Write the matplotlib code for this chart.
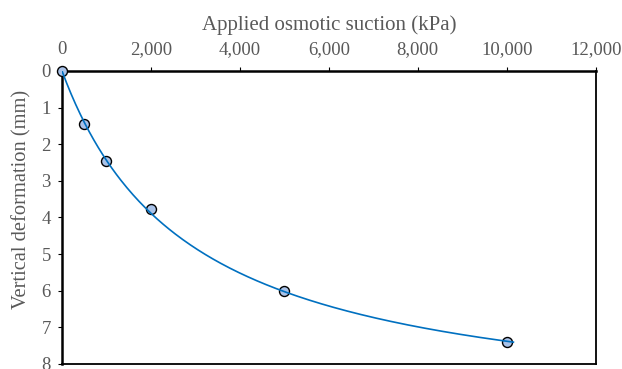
import matplotlib
matplotlib.use("Agg")
import matplotlib.pyplot as plt
import numpy as np
from matplotlib.ticker import FuncFormatter

# measured points
suction = [0, 500, 1000, 2000, 5000, 10000]
deformation = [0.0, 1.45, 2.45, 3.78, 6.0, 7.4]

x_ticks = [0, 2000, 4000, 6000, 8000, 10000, 12000]
y_ticks = [0, 1, 2, 3, 4, 5, 6, 7, 8]

plt.rcParams["font.family"] = ["Liberation Serif", "DejaVu Serif"]
grey = "#595959"

# hyperbolic trendline d = a*s/(b+s), fitted on linearised data s/d = b/a + s/a
s = np.array(suction[1:], dtype=float)
d = np.array(deformation[1:], dtype=float)
slope, intercept = np.polyfit(s, s / d, 1)
a = 1.0 / slope
b = intercept * a
s_fit = np.linspace(0, suction[-1] * 1.015, 300)
d_fit = a * s_fit / (b + s_fit)

fig = plt.figure(figsize=(6.22, 3.69), dpi=100)
ax = fig.add_axes([0.0997, 0.0136, 0.858, 0.794])

ax.plot(suction, deformation, "o", markersize=7.2, markerfacecolor="#A9C2E8",
        markeredgecolor="black", markeredgewidth=1.0, zorder=3, clip_on=False)
ax.plot(s_fit, d_fit, color="#0070C0", linewidth=1.2, zorder=4)

ax.set_xlim(0, 12000)
ax.set_ylim(8, 0)
ax.set_xticks(x_ticks)
ax.set_yticks(y_ticks)
ax.xaxis.set_major_formatter(FuncFormatter(lambda v, p: f"{int(v):,}"))
ax.xaxis.tick_top()
ax.xaxis.set_label_position("top")

ax.tick_params(axis="both", direction="out", length=3, width=0.8,
               colors="black", labelcolor=grey, labelsize=13.5)
ax.tick_params(axis="x", pad=6)
ax.tick_params(axis="y", pad=5)
ax.set_xlabel("Applied osmotic suction (kPa)", fontsize=15, color=grey,
              labelpad=8)
ax.set_ylabel("Vertical deformation (mm)", fontsize=14.8, color=grey)
ax.yaxis.set_label_coords(-0.057, 0.563)

for side in ["top", "left"]:
    ax.spines[side].set_linewidth(1.8)
for side in ["bottom", "right"]:
    ax.spines[side].set_linewidth(1.3)
for sp in ax.spines.values():
    sp.set_color("black")

fig.savefig("out.png", dpi=100)
